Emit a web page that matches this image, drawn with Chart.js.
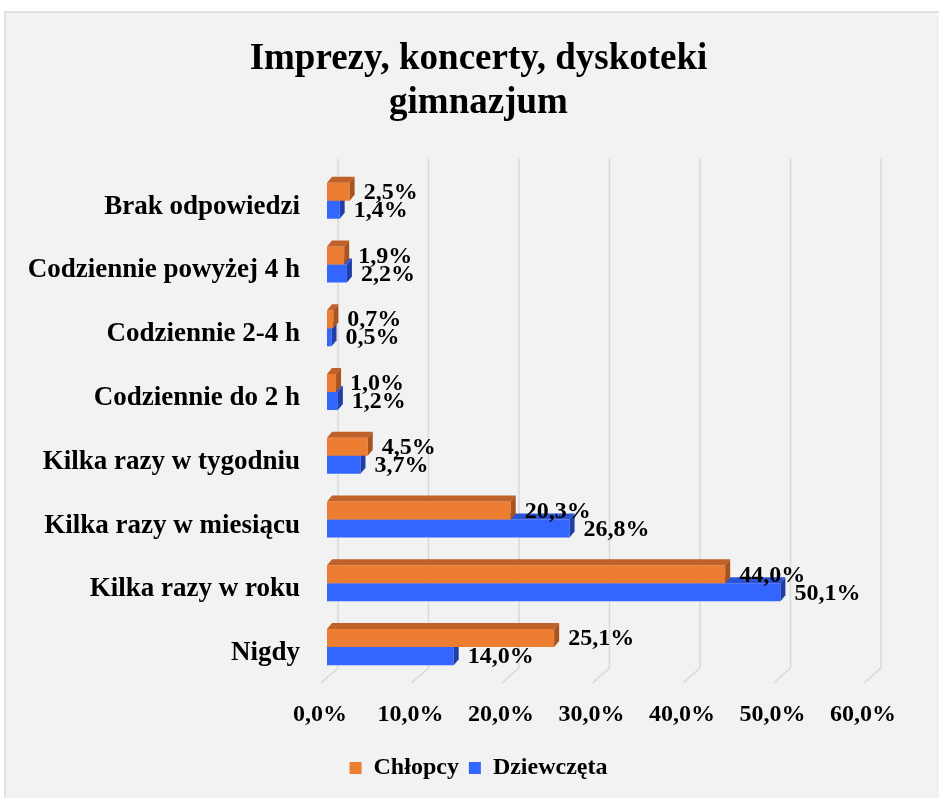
<!DOCTYPE html>
<html>
<head>
<meta charset="utf-8">
<script src="https://cdn.jsdelivr.net/npm/chart.js@4/dist/chart.umd.min.js"></script>
<style>
html, body { margin: 0; padding: 0; background: #fff; }
</style>
</head>
<body>
<canvas id="chart" width="939" height="798"></canvas>
<script>
// Data
var categories = ['Brak odpowiedzi', 'Codziennie powyżej 4 h', 'Codziennie 2-4 h', 'Codziennie do 2 h',
    'Kilka razy w tygodniu', 'Kilka razy w miesiącu', 'Kilka razy w roku', 'Nigdy'];
var chlopcy = [2.5, 1.9, 0.7, 1.0, 4.5, 20.3, 44.0, 25.1];
var dziewczeta = [1.4, 2.2, 0.5, 1.2, 3.7, 26.8, 50.1, 14.0];
var xTicks = [0, 10, 20, 30, 40, 50, 60];

var FONT = "'Liberation Serif', 'Times New Roman', serif";

// darker faces for the 3D look
var faceColors = [
    { top: '#bf6128', side: '#a9531f' },
    { top: '#2a53d6', side: '#1f3fa8' }
];

function pct(v) {
    return v.toFixed(1).replace('.', ',') + '%';
}

var panelPlugin = {
    id: 'panel',
    beforeDraw: function(chart) {
        var ctx = chart.ctx;
        ctx.save();
        ctx.fillStyle = '#fff';
        ctx.fillRect(0, 0, chart.width, chart.height);
        ctx.fillStyle = '#f2f2f2';
        ctx.fillRect(5, 12, chart.width - 5, chart.height - 12);
        ctx.strokeStyle = '#d9d9d9';
        ctx.lineWidth = 1.5;
        ctx.beginPath();
        ctx.moveTo(5, chart.height);
        ctx.lineTo(5, 12);
        ctx.lineTo(chart.width, 12);
        ctx.stroke();
        ctx.restore();
    }
};

var gridPlugin = {
    id: 'grid3d',
    beforeDatasetsDraw: function(chart) {
        var ctx = chart.ctx;
        var area = chart.chartArea;
        var x = chart.scales.x;
        ctx.save();
        ctx.strokeStyle = '#d9d9d9';
        ctx.lineWidth = 1.5;
        xTicks.forEach(function(v) {
            var px = x.getPixelForValue(v);
            ctx.beginPath();
            ctx.moveTo(px + 11, area.top - 10);
            ctx.lineTo(px + 11, area.bottom - 11);
            ctx.lineTo(px - 6, area.bottom + 4);
            ctx.stroke();
        });
        ctx.restore();
    }
};

var facesPlugin = {
    id: 'faces3d',
    afterDatasetDraw: function(chart, args) {
        var ctx = chart.ctx;
        var c = faceColors[args.index];
        var dx = 5, dy = 6;
        ctx.save();
        args.meta.data.forEach(function(bar) {
            var top = bar.y - bar.height / 2;
            var bottom = bar.y + bar.height / 2;
            ctx.fillStyle = c.top;
            ctx.beginPath();
            ctx.moveTo(bar.base, top);
            ctx.lineTo(bar.x, top);
            ctx.lineTo(bar.x + dx, top - dy);
            ctx.lineTo(bar.base + dx, top - dy);
            ctx.closePath();
            ctx.fill();
            ctx.fillStyle = c.side;
            ctx.beginPath();
            ctx.moveTo(bar.x, top);
            ctx.lineTo(bar.x + dx, top - dy);
            ctx.lineTo(bar.x + dx, bottom - dy);
            ctx.lineTo(bar.x, bottom);
            ctx.closePath();
            ctx.fill();
        });
        ctx.restore();
    }
};

var labelsPlugin = {
    id: 'valueLabels',
    afterDatasetsDraw: function(chart) {
        var ctx = chart.ctx;
        ctx.save();
        ctx.font = 'bold 24px ' + FONT;
        ctx.fillStyle = '#000';
        ctx.textAlign = 'left';
        ctx.textBaseline = 'middle';
        chart.data.datasets.forEach(function(ds, i) {
            var meta = chart.getDatasetMeta(i);
            meta.data.forEach(function(bar, j) {
                ctx.fillText(pct(ds.data[j]), bar.x + 14, bar.y + 1);
            });
        });
        ctx.restore();
    }
};

var ctx = document.getElementById('chart');

var myChart = new Chart(ctx, {
    type: 'bar',
    data: {
        labels: categories,
        datasets: [
            { label: 'Chłopcy', data: chlopcy, backgroundColor: '#ed7d31' },
            { label: 'Dziewczęta', data: dziewczeta, backgroundColor: '#3366ff' }
        ]
    },
    options: {
        indexAxis: 'y',
        responsive: false,
        animation: false,
        categoryPercentage: 0.565,
        barPercentage: 1,
        layout: { padding: { left: 18, right: 0, top: 0, bottom: 8 } },
        scales: {
            x: {
                type: 'linear',
                min: 0,
                max: 60,
                afterBuildTicks: function(s) {
                    s.ticks = xTicks.map(function(v) { return { value: v }; });
                },
                afterFit: function(s) { s.height = 67; },
                grid: { display: false, drawTicks: false },
                border: { display: false },
                ticks: {
                    callback: function(v) { return pct(v); },
                    font: { family: FONT, size: 24, weight: 'bold' },
                    color: '#000',
                    padding: 21,
                    labelOffset: -7,
                    maxRotation: 0
                }
            },
            y: {
                afterFit: function(s) { s.width = 327 - 18; },
                grid: { display: false, drawTicks: false },
                border: { display: false },
                ticks: {
                    font: { family: FONT, size: 27, weight: 'bold' },
                    color: '#000',
                    padding: 27,
                    labelOffset: 6
                }
            },
            // empty right strip, keeps the plot off the right edge
            yRight: {
                type: 'category',
                position: 'right',
                afterFit: function(s) { s.width = 69; },
                grid: { display: false, drawTicks: false },
                border: { display: false },
                ticks: { display: false }
            }
        },
        plugins: {
            title: {
                display: true,
                text: ['Imprezy, koncerty, dyskoteki', 'gimnazjum'],
                font: { family: FONT, size: 37, weight: 'bold' },
                color: '#000',
                padding: { top: 37, bottom: 43 }
            },
            legend: {
                position: 'bottom',
                labels: {
                    font: { family: FONT, size: 24, weight: 'bold' },
                    color: '#000',
                    boxWidth: 12,
                    boxHeight: 12,
                    padding: 10
                }
            },
            tooltip: { enabled: false }
        }
    },
    plugins: [panelPlugin, gridPlugin, facesPlugin, labelsPlugin]
});
</script>
</body>
</html>
